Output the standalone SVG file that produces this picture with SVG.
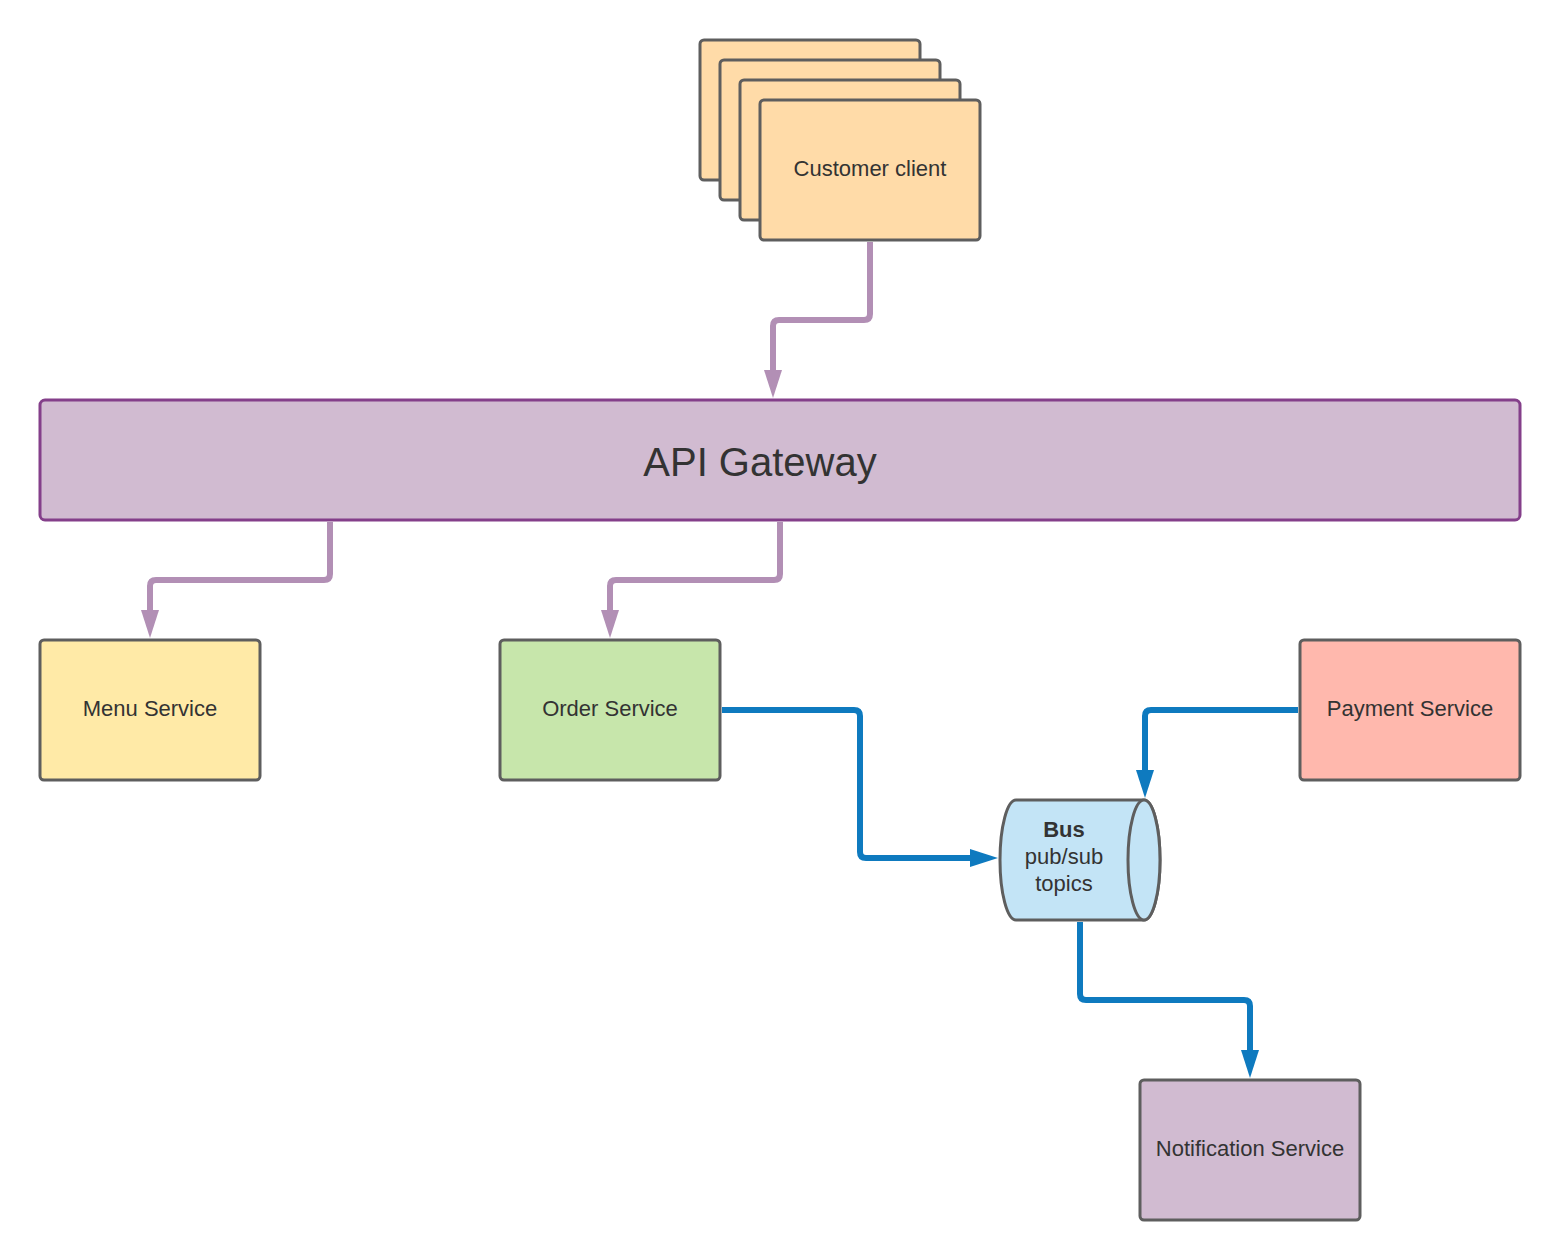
<svg xmlns="http://www.w3.org/2000/svg" width="1560" height="1260" viewBox="0 0 1560 1260">
<defs>
<style>
.box{stroke:#5e5e5e;stroke-width:3}
.lbl{font-family:"Liberation Sans",Arial,sans-serif;font-size:22px;fill:#333333;text-anchor:middle}
.pc{fill:none;stroke:#b28fb5;stroke-width:6;stroke-linejoin:round}
.bc{fill:none;stroke:#0e7abf;stroke-width:6;stroke-linejoin:round}
</style>
<marker id="ap" markerUnits="userSpaceOnUse" markerWidth="28" markerHeight="18" viewBox="0 0 28 18" refX="8" refY="9" orient="auto">
<path d="M0,0 L28,9 L0,18 Z" fill="#b28fb5"/>
</marker>
<marker id="ab" markerUnits="userSpaceOnUse" markerWidth="28" markerHeight="18" viewBox="0 0 28 18" refX="8" refY="9" orient="auto">
<path d="M0,0 L28,9 L0,18 Z" fill="#0e7abf"/>
</marker>
</defs>
<rect width="1560" height="1260" fill="#ffffff"/>
<g id="connectors">
<path class="pc" d="M870,242 V314 Q870,320 864,320 H779 Q773,320 773,326 V378" marker-end="url(#ap)"/>
<path class="pc" d="M330,522 V574 Q330,580 324,580 H156 Q150,580 150,586 V618" marker-end="url(#ap)"/>
<path class="pc" d="M780,522 V574 Q780,580 774,580 H616 Q610,580 610,586 V618" marker-end="url(#ap)"/>
<path class="bc" d="M722,710 H854 Q860,710 860,716 V852 Q860,858 866,858 H978" marker-end="url(#ab)"/>
<path class="bc" d="M1298,710 H1151 Q1145,710 1145,716 V778" marker-end="url(#ab)"/>
<path class="bc" d="M1080,922 V994 Q1080,1000 1086,1000 H1244 Q1250,1000 1250,1006 V1058" marker-end="url(#ab)"/>
</g>
<g id="customer-client">
<rect class="box" x="700" y="40" width="220" height="140" rx="4" fill="#ffdba8"/>
<rect class="box" x="720" y="60" width="220" height="140" rx="4" fill="#ffdba8"/>
<rect class="box" x="740" y="80" width="220" height="140" rx="4" fill="#ffdba8"/>
<rect class="box" x="760" y="100" width="220" height="140" rx="4" fill="#ffdba8"/>
<text class="lbl" x="870" y="176">Customer client</text>
</g>
<g id="api-gateway">
<rect x="40" y="400" width="1480" height="120" rx="5" fill="#d1bbd1" stroke="#843f8a" stroke-width="3"/>
<text x="760" y="476" font-family="'Liberation Sans',Arial,sans-serif" font-size="40" fill="#333333" text-anchor="middle">API Gateway</text>
</g>
<g id="menu-service">
<rect class="box" x="40" y="640" width="220" height="140" rx="4" fill="#ffeaa7"/>
<text class="lbl" x="150" y="716">Menu Service</text>
</g>
<g id="order-service">
<rect class="box" x="500" y="640" width="220" height="140" rx="4" fill="#c7e6ab"/>
<text class="lbl" x="610" y="716">Order Service</text>
</g>
<g id="payment-service">
<rect class="box" x="1300" y="640" width="220" height="140" rx="4" fill="#ffb8ad"/>
<text class="lbl" x="1410" y="716">Payment Service</text>
</g>
<g id="bus">
<path class="box" d="M1016,800 H1144 A16,60 0 0 1 1144,920 H1016 A16,60 0 0 1 1016,800 Z" fill="#c3e4f6"/>
<ellipse class="box" cx="1144" cy="860" rx="16" ry="60" fill="#c3e4f6"/>
<text class="lbl" x="1064" y="837" font-weight="bold">Bus</text>
<text class="lbl" x="1064" y="864">pub/sub</text>
<text class="lbl" x="1064" y="891">topics</text>
</g>
<g id="notification-service">
<rect class="box" x="1140" y="1080" width="220" height="140" rx="4" fill="#d1bbd1"/>
<text class="lbl" x="1250" y="1156">Notification Service</text>
</g>
</svg>
